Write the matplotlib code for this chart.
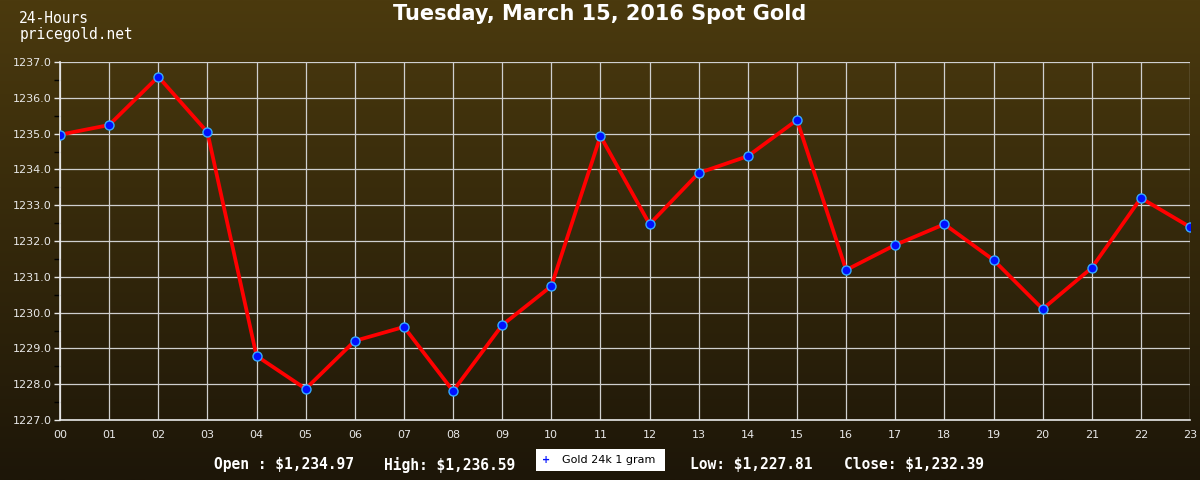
import numpy as np
import matplotlib
matplotlib.use('Agg')
import matplotlib.pyplot as plt
from matplotlib.colors import LinearSegmentedColormap

# Hourly spot gold prices (USD / oz)
hours = ['00', '01', '02', '03', '04', '05', '06', '07', '08', '09', '10', '11',
         '12', '13', '14', '15', '16', '17', '18', '19', '20', '21', '22', '23']
prices = [1234.97, 1235.24, 1236.59, 1235.04, 1228.79, 1227.87, 1229.21, 1229.60,
          1227.81, 1229.65, 1230.74, 1234.93, 1232.47, 1233.90, 1234.37, 1235.38,
          1231.19, 1231.89, 1232.47, 1231.47, 1230.10, 1231.25, 1233.20, 1232.39]
y_ticks = [1227.0, 1228.0, 1229.0, 1230.0, 1231.0, 1232.0, 1233.0, 1234.0, 1235.0, 1236.0, 1237.0]

title = 'Tuesday, March 15, 2016 Spot Gold'
series_name = 'Gold 24k 1 gram'
summary = [('Open : $1,234.97', 0.178), ('High: $1,236.59', 0.320),
           ('Low: $1,227.81', 0.575), ('Close: $1,232.39', 0.703)]

fig = plt.figure(figsize=(12, 4.8), dpi=100)

# Background gradient
bg = fig.add_axes([0, 0, 1, 1], zorder=-10)
cmap = LinearSegmentedColormap.from_list('bg', ['#4b3a0e', '#1d1608'])
grad = np.linspace(0, 1, 256).reshape(-1, 1)
bg.imshow(grad, aspect='auto', cmap=cmap, extent=[0, 1, 0, 1])
bg.axis('off')

ax = fig.add_axes([0.05, 0.125, 0.9417, 0.7458])
ax.set_facecolor('none')
x = np.arange(len(hours))
ax.plot(x, prices, color='#ff0000', lw=2.7, zorder=3)
ax.plot(x, prices, ls='none', marker='o', ms=6.5, mfc='#0010ff', mec='#33aaff', mew=1, zorder=4)

ax.set_xlim(0, 23)
ax.set_ylim(1227, 1237)
ax.set_xticks(x)
ax.set_xticklabels(hours)
ax.set_yticks(y_ticks)
ax.set_yticklabels(['%.1f' % v for v in y_ticks])
ax.set_yticks(np.arange(1227.5, 1237, 1.0), minor=True)
ax.grid(True, color='#cfcfcf', lw=0.9)
ax.tick_params(axis='both', colors='#e8e8e8', labelsize=8, length=0, pad=6)
ax.tick_params(axis='y', which='both', length=4, width=1, pad=2)
ax.tick_params(axis='x', length=0, pad=7)
for side in ['top', 'right']:
    ax.spines[side].set_visible(False)
for side in ['left', 'bottom']:
    ax.spines[side].set_color('#e8e8e8')
    ax.spines[side].set_linewidth(1.2)

fig.text(0.5, 0.97, title, ha='center', va='center', color='white',
         fontsize=15, fontweight='bold', family='DejaVu Sans')
fig.text(0.016, 0.945, '24-Hours\npricegold.net', ha='left', va='center', color='white',
         fontsize=10.5, family='DejaVu Sans Mono', linespacing=1.05)

for txt, xp in summary:
    fig.text(xp, 0.032, txt, ha='left', va='center', color='white',
             fontsize=10.5, family='DejaVu Sans Mono', fontweight='bold')

# legend box
fig.patches.append(plt.Rectangle((0.447, 0.018), 0.107, 0.046, transform=fig.transFigure,
                                 facecolor='white', edgecolor='none'))
fig.text(0.455, 0.041, '+', ha='center', va='center', color='#0010ff', fontsize=7, fontweight='bold')
fig.text(0.468, 0.041, series_name, ha='left', va='center', color='black', fontsize=8)

fig.savefig('out.png', dpi=100)
